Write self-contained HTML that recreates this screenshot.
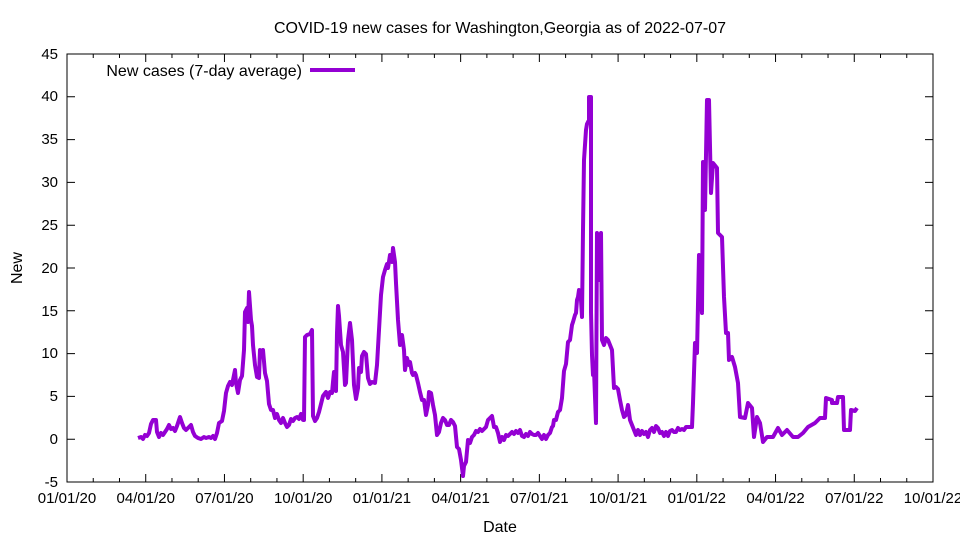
<!DOCTYPE html>
<html><head><meta charset="utf-8"><style>body{margin:0;background:#fff}svg{display:block}text{font-family:"Liberation Sans",Arial,sans-serif;font-size:15px;fill:#000}.big{font-size:16px}</style></head>
<body>
<svg width="960" height="540" viewBox="0 0 960 540" xmlns="http://www.w3.org/2000/svg">
<rect width="960" height="540" fill="#fff"/>
<text class="big" x="500" y="33" text-anchor="middle">COVID-19 new cases for Washington,Georgia as of 2022-07-07</text>
<text class="big" x="500" y="532" text-anchor="middle">Date</text>
<text class="big" x="22" y="268" text-anchor="middle" transform="rotate(-90 22 268)">New</text>
<g id="yt" text-anchor="end">
<text x="58" y="487">-5</text><text x="58" y="444">0</text><text x="58" y="401">5</text><text x="58" y="358">10</text><text x="58" y="316">15</text><text x="58" y="273">20</text><text x="58" y="230">25</text><text x="58" y="187">30</text><text x="58" y="144">35</text><text x="58" y="101">40</text><text x="58" y="59">45</text>
</g>
<g stroke="#000" stroke-width="1">
<path d="M67 482H75M67 439.2H75M67 396.4H75M67 353.6H75M67 310.8H75M67 268H75M67 225.2H75M67 182.4H75M67 139.6H75M67 96.8H75M67 54H75"/>
<path d="M933 482H925M933 439.2H925M933 396.4H925M933 353.6H925M933 310.8H925M933 268H925M933 225.2H925M933 182.4H925M933 139.6H925M933 96.8H925M933 54H925"/>
<path id="xt" d=""/>
<rect x="67" y="54" width="866" height="428" fill="none"/>
</g>
<g id="xl" text-anchor="middle"></g>
<text class="big" x="302" y="76" text-anchor="end">New cases (7-day average)</text>
<line x1="310" y1="70" x2="355" y2="70" stroke="#9400d3" stroke-width="4"/>
<polyline fill="none" stroke="#9400d3" stroke-width="4" stroke-linejoin="round" points="138,438 141,437 143,439 145,435 147,436 149,433 151,424 153,420 156,420 157,432 159,437 161,433 163,435 165,432 167,429 169,425 171,429 173,428 175,431 177,426 180,417 182,423 184,428 186,430 189,427 191,425 193,432 195,436 198,438 201,439 204,437 206,438 209,437 211,438 213,436 215,439 217,433 219,423 222,421 224,411 226,393 228,386 230,382 232,385 233,380 235,370 236,383 238,393 240,380 242,376 244,350 245,312 247,308 248,322 249,292 251,320 252,326 253,345 255,365 257,377 259,378 260,350 262,355 263,350 265,373 267,381 269,404 271,410 273,410 275,418 277,414 279,420 281,423 283,418 285,423 287,427 289,425 291,419 293,421 295,418 297,417 299,419 301,414 303,420 304,420 305,337 307,335 310,334 312,330 313,416 315,421 317,418 319,412 321,404 323,396 326,392 328,398 330,392 332,393 333,382 334,372 336,391 337,333 338,306 339,316 341,345 343,352 345,385 346,383 348,340 350,323 352,340 354,385 356,399 358,388 359,368 361,372 362,356 364,352 366,354 368,378 370,384 372,382 375,383 377,365 379,330 381,295 383,277 385,270 387,264 388,268 390,255 392,262 393,248 395,262 396,283 398,320 400,345 402,335 404,350 405,370 407,358 409,365 410,362 412,373 413,375 415,373 416,375 418,383 420,392 422,400 424,400 426,415 428,405 429,392 431,393 433,405 435,415 437,435 439,432 441,423 443,418 445,420 447,425 449,425 451,420 453,422 455,426 457,447 459,449 461,460 463,476 464,466 466,462 468,440 470,443 472,437 474,435 476,431 478,432 480,429 482,431 484,429 486,427 488,420 490,418 492,416 494,427 496,427 498,433 500,442 502,437 504,440 506,435 508,436 510,434 512,432 514,434 516,431 518,433 520,430 522,436 524,437 526,434 528,436 530,432 532,434 534,435 536,435 538,433 540,436 542,439 544,435 546,439 548,435 550,433 552,427 553,426 554,420 556,420 558,412 560,410 562,398 564,371 566,364 568,342 570,340 572,325 573,322 575,315 576,313 577,300 578,297 579,290 580,295 581,300 582,317 583,230 584,160 586,130 587,124 589,120 589,97 591,97 591,312 592,355 593,375 594,370 596,423 597,233 599,280 600,270 601,233 602,340 604,345 606,338 608,340 610,345 612,350 614,388 616,387 618,389 620,400 622,410 624,417 626,415 628,405 630,420 632,425 634,430 636,435 638,430 640,435 642,431 644,434 646,432 648,437 650,430 652,428 654,432 656,426 658,428 660,433 662,432 664,436 666,432 668,436 670,431 672,430 674,432 676,432 678,428 680,430 682,429 684,430 686,427 688,427 692,427 693,403 695,343 697,353 699,255 702,313 703,162 705,210 707,100 709,100 711,193 713,163 717,168 718,233 722,237 724,297 726,333 728,333 729,360 732,357 735,367 738,383 740,417 745,418 748,403 752,408 754,437 757,417 760,423 763,442 767,437 773,437 778,428 782,435 787,430 793,437 798,437 803,433 808,427 815,423 820,418 825,418 826,398 832,400 832,403 837,403 838,397 843,397 844,430 850,430 851,410 855,411 857,408"/>
</svg>
<script>
(function(){var ns="http://www.w3.org/2000/svg",labs=["01/01/20","04/01/20","07/01/20","10/01/20","01/01/21","04/01/21","07/01/21","10/01/21","01/01/22","04/01/22","07/01/22","10/01/22"];
var d="",g=document.getElementById("xl"),step=866/11;
for(var i=0;i<12;i++){var x=67+i*step;d+="M"+x+" 482V474M"+x+" 54V62";
if(i<11){for(var k=1;k<3;k++){var m=x+k*step/3;d+="M"+m+" 482V478M"+m+" 54V58";}}
var t=document.createElementNS(ns,"text");t.setAttribute("x",x);t.setAttribute("y",503);t.setAttribute("text-anchor","middle");t.textContent=labs[i];g.appendChild(t);}
document.getElementById("xt").setAttribute("d",d);})();
</script>
</body></html>
